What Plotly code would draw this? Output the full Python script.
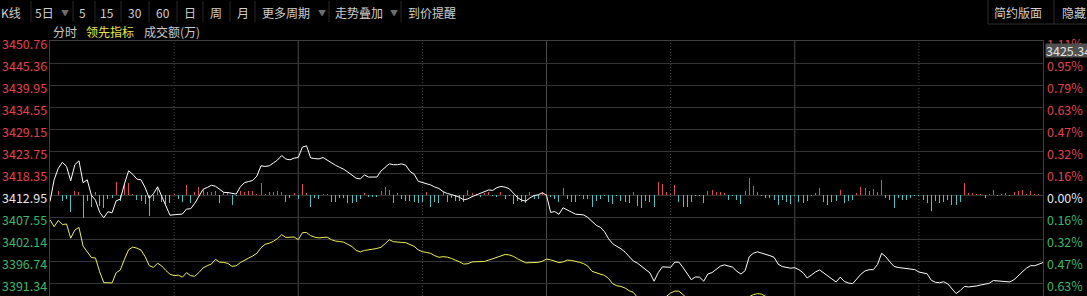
import plotly.graph_objects as go

# ---------------- data ----------------
PREV_CLOSE = 3412.95
Y_TOP = 3450.76
Y_BOTTOM = 3388.34
LEVELS = [3450.76, 3445.36, 3439.95, 3434.55, 3429.15, 3423.75, 3418.35,
          3412.95, 3407.55, 3402.14, 3396.74, 3391.34]
N_SLOTS = 240            # 4 trading days x 60 four-minute slots
DAY_BOUNDS = [60, 120, 180]
LUNCH = [30, 90, 150, 210]
BAR_SCALE = 0.2448       # price points per bar unit

# price line: change vs previous close (points)
white_chg = [
    -1.47, 3.84, 6.65, 8.12, 7.09, 3.59, 7.51, 8.48, 3.11, 3.84,
    0.05, -1.17, -4.11, -5.45, -3.99, -4.23, -1.30, -0.93, 2.86, 6.04,
    5.18, 4.01, 3.84, 1.88, -0.68, 0.42, 2.13, -0.24, -2.64, -4.84,
    -4.72, -4.55, -4.55, -3.33, -3.25, -1.91, -0.24, 1.52, 1.96, 2.49,
    2.25, 1.39, 0.76, 0.71, 0.46, 0.34, 2.13, 3.11, 3.42, 3.67,
    4.74, 7.26, 7.11, 7.26, 7.95, 8.68, 9.78, 8.92, 8.73, 9.14,
    9.29, 11.83, 12.15, 9.19, 9.02, 8.95, 9.29, 8.58, 7.90, 7.38,
    6.89, 6.41, 5.72, 4.89, 4.21, 4.06, 5.01, 4.50, 4.50, 4.52,
    5.99, 6.97, 7.75, 7.53, 7.53, 7.73, 7.38, 5.89, 5.21, 3.47,
    3.23, 2.96, 2.57, 2.08, 1.71, 0.95, 0.49, 0.24, -0.05, -0.44,
    -1.08, -0.83, -0.29, 0.12, 0.56, 1.10, 1.34, 1.25, 1.91, 2.20,
    2.03, 1.64, 0.49, -0.54, -1.15, -1.39, -0.59, -0.02, 0.17, 0.66,
    0.05, -4.13, -3.94, -4.62, -3.01, -3.45, -4.06, -4.57, -4.72, -4.77,
    -5.40, -6.23, -7.29, -7.78, -8.83, -10.59, -11.81, -12.47, -13.03, -13.89,
    -15.06, -16.06, -16.58, -17.43, -18.26, -18.95, -20.98, -18.90, -17.48, -17.56,
    -17.58, -16.33, -16.33, -17.65, -19.29, -20.61, -19.95, -20.00, -20.98, -19.22,
    -18.88, -18.17, -17.31, -16.99, -17.21, -17.56, -18.56, -19.24, -18.41, -14.99,
    -14.13, -13.79, -14.11, -14.52, -14.74, -15.13, -16.82, -17.41, -17.68, -17.80,
    -17.68, -18.17, -18.90, -20.20, -19.49, -18.73, -18.22, -19.02, -19.63, -20.46,
    -21.17, -20.00, -21.05, -21.44, -21.59, -20.42, -19.27, -18.46, -18.17, -18.17,
    -16.87, -14.16, -14.99, -16.26, -17.38, -17.63, -17.75, -17.75, -17.87, -18.14,
    -18.75, -19.05, -19.17, -20.76, -21.25, -21.37, -21.12, -21.66, -22.76, -24.01,
    -23.28, -22.27, -22.40, -22.32, -22.15, -21.91, -21.71, -21.49, -20.83, -20.93,
    -21.03, -21.03, -21.17, -20.61, -19.68, -18.90, -17.78, -17.19, -17.19, -16.82,
    -16.41,
]

# leading indicator line: change vs previous close (points)
yellow_chg = [
    -5.94, -7.65, -6.11, -7.11, -6.99, -10.46, -8.46, -7.82, -12.42, -13.67,
    -15.18, -15.31, -18.66, -21.34, -21.42, -21.42, -18.90, -18.22, -15.60, -13.28,
    -12.64, -12.89, -13.37, -14.99, -17.19, -17.60, -16.58, -17.26, -18.36, -19.27,
    -19.63, -19.51, -20.00, -18.90, -19.63, -19.80, -18.85, -17.73, -17.19, -16.80,
    -15.62, -16.33, -16.38, -16.63, -17.36, -17.21, -16.43, -15.82, -15.33, -14.82,
    -14.16, -12.79, -11.96, -11.69, -11.22, -10.54, -9.61, -10.27, -10.27, -10.17,
    -10.83, -9.12, -9.07, -9.83, -10.22, -10.39, -10.27, -10.22, -10.83, -11.15,
    -11.27, -11.44, -11.98, -12.52, -13.45, -13.81, -13.45, -13.23, -13.15, -12.98,
    -12.67, -11.81, -10.83, -11.32, -11.49, -11.49, -11.56, -11.96, -12.45, -13.33,
    -13.77, -13.94, -14.16, -14.74, -15.13, -14.99, -15.09, -15.40, -15.79, -16.28,
    -16.80, -16.70, -16.26, -16.21, -16.33, -16.16, -15.84, -15.48, -15.04, -14.69,
    -14.45, -14.55, -14.91, -15.50, -16.06, -16.50, -16.45, -16.38, -16.38, -16.09,
    -15.57, -15.75, -16.09, -16.43, -16.26, -15.82, -15.89, -16.06, -16.36, -16.70,
    -17.29, -18.58, -18.88, -19.17, -19.56, -20.32, -21.61, -22.10, -22.27, -22.67,
    -23.33, -23.72, -25.01, -25.75, -26.23, -26.48, -26.97, -26.23, -25.50, -24.77,
    -23.91, -23.42, -23.42, -24.28, -25.26, -25.99, -26.23, -26.23, -26.48, -25.99,
    -25.75, -25.50, -25.26, -25.26, -25.50, -25.50, -25.99, -26.23, -25.75, -24.77,
    -24.28, -24.03, -24.16, -24.77, -25.26, -25.50, -26.23, -26.6, -26.8, -26.9,
    -26.9, -27.1, -27.4, -27.8, -27.6, -27.4, -27.3, -27.5, -27.7, -28.0,
    -28.2, -28.0, -28.3, -28.5, -28.6, -28.3, -28.0, -27.8, -27.7, -27.7,
    -27.4, -26.9, -27.1, -27.4, -27.7, -27.8, -27.9, -27.9, -28.0, -28.1,
    -28.3, -28.4, -28.5, -28.8, -29.0, -29.1, -29.0, -29.2, -29.5, -29.8,
    -29.7, -29.5, -29.5, -29.5, -29.4, -29.3, -29.3, -29.2, -29.0, -29.1,
    -29.1, -29.1, -29.2, -29.0, -28.8, -28.6, -28.4, -28.2, -28.2, -28.1,
    -28.0,
]

# red / cyan bars on the previous-close line, slots 1..240
lead_bars = [
    0, 4, -6, -4, -17, 4, 3, -23, -6, -12,
    3, -11, -13, -4, -3, 13, -6, 12, 12, 1,
    -5, -6, -9, -21, -6, 8, -7, -9, -8, 1,
    -4, -7, 10, -8, 3, 8, 5, 3, 3, 4,
    -8, 3, 3, -10, -1, 4, 3, 4, 4, 1,
    12, 1, 3, 3, 4, 3, -7, -3, 2, -4,
    11, 2, -12, -3, -4, 1, 1, -7, -7, -3,
    -3, -8, -8, -7, -4, 2, -2, -2, -2, 4,
    8, 5, -8, 2, -4, -6, -6, -7, -8, -7,
    3, -12, -7, -8, 3, -7, -3, -6, -6, -7,
    5, 2, 1, -2, 2, 3, -1, -2, 3, -4,
    -1, -9, -6, -7, -8, 3, -4, -4, 3, 1,
    -2, -4, -7, 7, -4, -7, -7, -1, -4, -4,
    -12, -6, -4, -1, -7, -9, -1, -6, -7, -8,
    3, -11, -13, -6, -7, -12, 13, 11, 3, 1,
    10, -7, -12, -12, -7, -1, -1, -8, 4, 5,
    3, 3, 2, -5, -1, -5, -9, 4, 17, 9,
    3, -1, -3, -3, -5, -10, -5, -7, -9, -1,
    -7, -8, -6, -1, 2, 7, -7, -10, -7, -6,
    5, -8, -6, -5, 2, 8, 7, 4, 6, 3,
    15, -3, -5, -13, -3, -5, -5, -3, -1, -1,
    -5, -8, -16, -6, -8, -7, -5, -10, -10, -7,
    12, 2, 2, 1, 1, -3, 1, 5, -1, 1,
    2, -1, 3, 4, 5, 1, 4, 1, 1, 1,
]

TOOLBAR_ROW1 = [("K线", 11), ("5日", 44), ("5", 82), ("15", 107), ("30", 135),
                ("60", 163), ("日", 190), ("周", 216), ("月", 243),
                ("更多周期", 286), ("走势叠加", 359), ("到价提醒", 432),
                ("简约版面", 1018), ("隐藏", 1074)]
TOOLBAR_ARROWS = [65, 322, 394]
TOOLBAR_SEPS = [31, 73, 95, 121, 149, 177, 203, 230, 255, 329, 401]
ROW2 = [("分时", 65, "#c8c8c8"), ("领先指标", 110, "#e8e84a"), ("成交额(万)", 172, "#c8c8c8")]
LAST_TAG = "3425.34"

# ---------------- styling ----------------
W, H = 1087, 296
ML, MR, MT, MB = 50, 44, 41, 0
PW, PH = W - ML - MR, H - MT - MB
FONT = "Noto Sans CJK SC"
RED = "#e0434f"
GREEN = "#3fb56c"
NEUTRAL = "#e6e6e6"
GRID = "#343434"
BORDER = "#404040"
BAR_UP = "#e0505c"
BAR_DN = "#4fc6c8"
YELLOW = "#f0f05a"
TXT = "#cfcfcf"


def pxx(x):
    return (x - ML) / PW


def pxy(y):
    return (H - MB - y) / PH


slots = list(range(N_SLOTS + 1))
white = [PREV_CLOSE + v for v in white_chg]
yellow = [PREV_CLOSE + v for v in yellow_chg]
bar_x = list(range(1, N_SLOTS + 1))
bar_h = [v * BAR_SCALE for v in lead_bars]
bar_c = [BAR_UP if v > 0 else BAR_DN for v in lead_bars]
one_px = N_SLOTS / PW   # bar width of one screen pixel, in slot units

fig = go.Figure()
fig.add_trace(go.Bar(x=bar_x, y=bar_h, base=PREV_CLOSE, width=one_px,
                     marker=dict(color=bar_c, line=dict(width=0.02, color=bar_c)),
                     hoverinfo="skip"))
fig.add_trace(go.Scatter(x=slots, y=yellow, mode="lines",
                         line=dict(color=YELLOW, width=1), hoverinfo="skip"))
fig.add_trace(go.Scatter(x=slots, y=white, mode="lines",
                         line=dict(color="#ffffff", width=1), hoverinfo="skip"))

shapes = []
for d in DAY_BOUNDS:
    shapes.append(dict(type="line", xref="x", yref="paper", x0=d, x1=d, y0=0, y1=1,
                       line=dict(color="#4a4a4a", width=1), layer="below"))
for d in LUNCH:
    shapes.append(dict(type="line", xref="x", yref="paper", x0=d, x1=d, y0=0, y1=1,
                       line=dict(color="#4a4a4a", width=1, dash="1px,2px"), layer="below"))
for s in TOOLBAR_SEPS:
    shapes.append(dict(type="line", xref="paper", yref="paper", x0=pxx(s), x1=pxx(s),
                       y0=pxy(1), y1=pxy(22), line=dict(color="#262626", width=1)))
# right-hand toolbar box
shapes.append(dict(type="line", xref="paper", yref="paper", x0=pxx(988), x1=pxx(988),
                   y0=pxy(0), y1=pxy(24), line=dict(color="#2c2c2c", width=1)))
shapes.append(dict(type="line", xref="paper", yref="paper", x0=pxx(1054), x1=pxx(1054),
                   y0=pxy(0), y1=pxy(24), line=dict(color="#2c2c2c", width=1)))
shapes.append(dict(type="line", xref="paper", yref="paper", x0=pxx(988), x1=pxx(1090),
                   y0=pxy(24), y1=pxy(24), line=dict(color="#2c2c2c", width=1)))

ann = []
for v in LEVELS:
    col = RED if v > PREV_CLOSE + 1e-9 else (GREEN if v < PREV_CLOSE - 1e-9 else NEUTRAL)
    pct = abs(v - PREV_CLOSE) / PREV_CLOSE * 100
    ann.append(dict(x=0, xref="paper", y=v, yref="y", text=f"{v:.2f}", showarrow=False,
                    xanchor="right", yanchor="middle", xshift=-2, yshift=-2,
                    font=dict(size=12.5, color=col, family=FONT), borderpad=0))
    ann.append(dict(x=1, xref="paper", y=v, yref="y", text=f"{pct:.2f}%", showarrow=False,
                    xanchor="left", yanchor="middle", xshift=3, yshift=-2,
                    font=dict(size=12.5, color=col, family=FONT), borderpad=0))
# last-value tag covering the top percent label
ann.append(dict(x=1, xref="paper", y=pxy(50.3), yref="paper", text=LAST_TAG, showarrow=False,
                xanchor="left", yanchor="middle", xshift=2, height=13, borderpad=0,
                bgcolor="#505050", align="left",
                font=dict(size=12.5, color="#e2e2e2", family=FONT)))
for t, cx in TOOLBAR_ROW1:
    ann.append(dict(x=pxx(cx), xref="paper", y=pxy(12.5), yref="paper", text=t, showarrow=False,
                    xanchor="center", yanchor="middle",
                    font=dict(size=12, color=TXT, family=FONT)))
for cx in TOOLBAR_ARROWS:
    ann.append(dict(x=pxx(cx), xref="paper", y=pxy(12.5), yref="paper", text="▼", showarrow=False,
                    xanchor="center", yanchor="middle",
                    font=dict(size=8, color="#6e6e6e", family=FONT)))
for t, cx, col in ROW2:
    ann.append(dict(x=pxx(cx), xref="paper", y=pxy(31.5), yref="paper", text=t, showarrow=False,
                    xanchor="center", yanchor="middle",
                    font=dict(size=12, color=col, family=FONT)))

fig.update_layout(
    width=W, height=H,
    margin=dict(l=ML, r=MR, t=MT, b=MB, pad=0),
    paper_bgcolor="#000000", plot_bgcolor="#000000",
    showlegend=False, barmode="overlay", bargap=0, bargroupgap=0,
    font=dict(family=FONT, color=TXT),
    xaxis=dict(range=[0, N_SLOTS], showgrid=False, zeroline=False, showticklabels=False,
               ticks="", showline=True, side="top", linecolor=BORDER, linewidth=1,
               fixedrange=True),
    yaxis=dict(range=[Y_BOTTOM, Y_TOP], tickvals=LEVELS, showgrid=True, gridcolor=GRID,
               gridwidth=1, zeroline=False, showticklabels=False, ticks="",
               showline=True, mirror=True, linecolor=BORDER, linewidth=1, fixedrange=True),
    shapes=shapes,
    annotations=ann,
)

fig.write_html("out.html", config={"displayModeBar": False})
